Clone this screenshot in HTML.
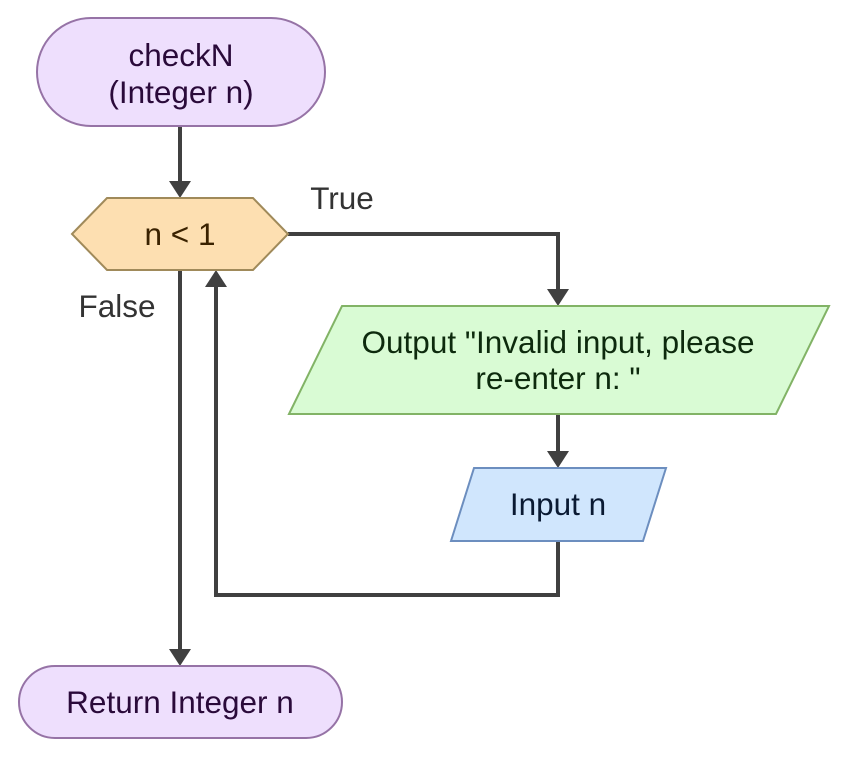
<!DOCTYPE html>
<html><head><meta charset="utf-8"><style>
html,body{margin:0;padding:0;background:#fff;}
svg{display:block;}
text{font-family:"Liberation Sans",Arial,sans-serif;font-size:31.5px;text-anchor:middle;}
</style></head><body>
<svg width="847" height="757" viewBox="0 0 847 757" xmlns="http://www.w3.org/2000/svg">
<g fill="none" stroke="#404040" stroke-width="4">
<path d="M180 126 V182"/>
<path d="M288 234 H558 V290"/>
<path d="M558 414 V452"/>
<path d="M558 541 V595 H216 V286"/>
<path d="M180 270 V650"/>
</g>
<g fill="#404040">
<polygon points="169,181 191,181 180,198"/>
<polygon points="547,289 569,289 558,306"/>
<polygon points="547,451 569,451 558,468"/>
<polygon points="205,287 227,287 216,270"/>
<polygon points="169,649 191,649 180,666"/>
</g>
<rect x="37" y="18" width="288" height="108" rx="54" fill="#eedffd" stroke="#9673a6" stroke-width="2"/>
<text x="181" y="66" fill="#2a0a3a">checkN</text>
<text x="181" y="103" fill="#2a0a3a">(Integer n)</text>
<polygon points="72,234 107,198 253,198 288,234 253,270 107,270" fill="#fddfb1" stroke="#a08a5a" stroke-width="2"/>
<text x="180" y="245" fill="#3a2200">n &lt; 1</text>
<text x="342" y="209" fill="#333">True</text>
<text x="117" y="317" fill="#333">False</text>
<polygon points="289,414 342,306 829,306 776,414" fill="#d9fbd4" stroke="#82b366" stroke-width="2"/>
<text x="558" y="353" fill="#0d2a0d">Output "Invalid input, please</text>
<text x="558" y="389" fill="#0d2a0d">re-enter n: "</text>
<polygon points="451,541 474,468 666,468 643,541" fill="#d0e6fd" stroke="#6c8ebf" stroke-width="2"/>
<text x="558" y="515" fill="#0a1a33">Input n</text>
<rect x="19" y="666" width="323" height="72" rx="36" fill="#eedffd" stroke="#9673a6" stroke-width="2"/>
<text x="180" y="713" fill="#2a0a3a">Return Integer n</text>
</svg>
</body></html>
